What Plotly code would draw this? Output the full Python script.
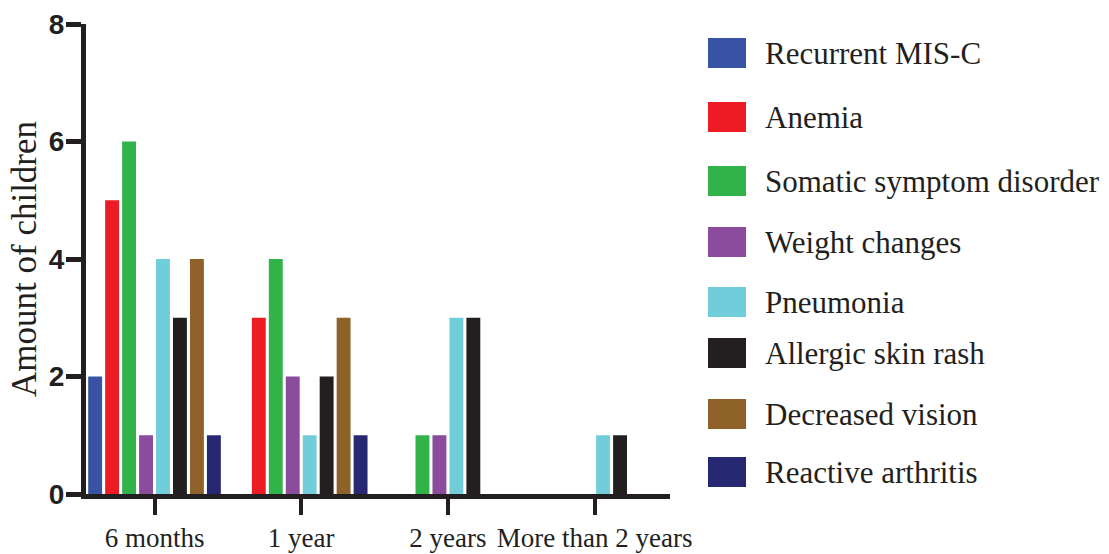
import plotly.graph_objects as go

categories = ["6 months", "1 year", "2 years", "More than 2 years"]
series_names = ["Recurrent MIS-C", "Anemia", "Somatic symptom disorder", "Weight changes",
                "Pneumonia", "Allergic skin rash", "Decreased vision", "Reactive arthritis"]
recurrent_misc = [2, 0, 0, 0]
anemia = [5, 3, 0, 0]
somatic = [6, 4, 1, 0]
weight_changes = [1, 2, 1, 0]
pneumonia = [4, 1, 3, 1]
allergic_rash = [3, 2, 3, 1]
decreased_vision = [4, 3, 0, 0]
reactive_arthritis = [1, 1, 0, 0]
series_values = [recurrent_misc, anemia, somatic, weight_changes,
                 pneumonia, allergic_rash, decreased_vision, reactive_arthritis]
colors = ["#3953A4", "#ED1C24", "#32B34A", "#8B4C9E", "#72CDDB", "#231F20", "#8E6229", "#262872"]
y_ticks = [0, 2, 4, 6, 8]

W, H = 1109, 554
L, R, T, B = 86, 670, 24, 494  # plot area in pixels

fig = go.Figure()
for name, vals, col in zip(series_names, series_values, colors):
    fig.add_trace(go.Bar(x=categories, y=vals, name=name, marker=dict(color=col, line=dict(width=0)),
                         showlegend=False))

ink = "#231F20"
serif = "Liberation Serif, Times New Roman, serif"

def px_x(p):
    return (p - L) / (R - L)

def px_y(p):
    return (B - p) / (B - T)

# custom legend
legend_centers = [53, 117, 181, 242, 302, 353, 414, 472]
shapes = []
annotations = []
for name, col, cy in zip(series_names, colors, legend_centers):
    shapes.append(dict(type="rect", xref="paper", yref="paper",
                       x0=px_x(708), x1=px_x(746), y0=px_y(cy + 15), y1=px_y(cy - 15),
                       fillcolor=col, line=dict(width=0)))
    annotations.append(dict(xref="paper", yref="paper", x=px_x(763), y=px_y(cy), text=name,
                            showarrow=False, xanchor="left", yanchor="middle",
                            font=dict(family=serif, size=31, color=ink)))

annotations.append(dict(xref="paper", yref="paper", x=px_x(24), y=px_y(259), text="Amount of children",
                        textangle=-90, showarrow=False, xanchor="center", yanchor="middle",
                        font=dict(family=serif, size=35, color=ink)))

fig.update_layout(
    width=W, height=H,
    margin=dict(l=L, r=W - R, t=T, b=H - B, pad=0, autoexpand=False),
    paper_bgcolor="white", plot_bgcolor="white",
    barmode="group", bargap=0.075, bargroupgap=0.18,
    shapes=shapes, annotations=annotations,
    showlegend=False,
)
fig.update_xaxes(
    type="category", range=[-0.467, 3.514], automargin=False,
    showline=True, linecolor=ink, linewidth=5,
    ticks="outside", ticklen=16, tickwidth=4, tickcolor=ink,
    tickfont=dict(family=serif, size=27, color=ink),
    showgrid=False, zeroline=False,
)
fig.update_yaxes(
    range=[0, 8], tickvals=y_ticks, automargin=False,
    showline=True, linecolor=ink, linewidth=5,
    ticks="outside", ticklen=15, tickwidth=5, tickcolor=ink, ticklabelstandoff=-4,
    tickfont=dict(family="Liberation Sans, Arial, sans-serif", size=28, color=ink, weight="bold"),
    showgrid=False, zeroline=False,
)

fig.write_html(
    "out.html",
    config={"displayModeBar": False},
    post_script="document.body.style.margin='0';document.body.style.padding='0';"
                "document.body.style.overflow='hidden';",
)
